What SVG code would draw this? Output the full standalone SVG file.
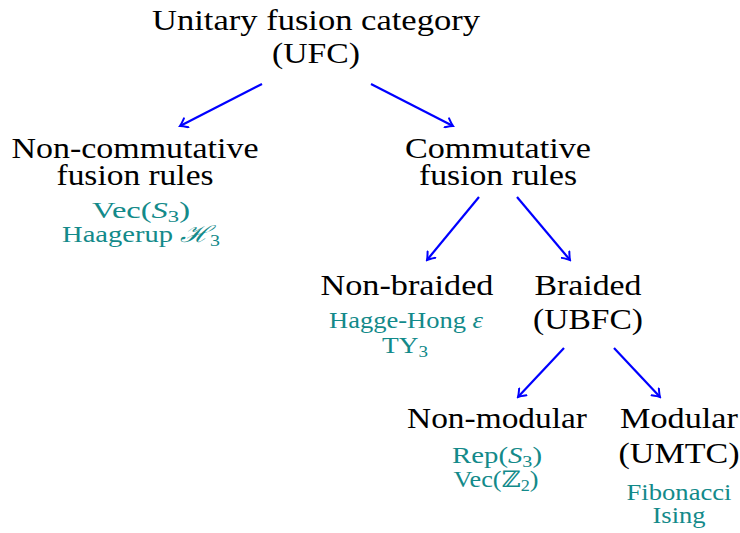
<svg xmlns="http://www.w3.org/2000/svg" width="740" height="533" viewBox="0 0 740 533">
<style>
.t{font-family:"Liberation Serif","DejaVu Serif",serif;font-size:30px;fill:#000;text-anchor:middle}
.e{font-family:"Liberation Serif","DejaVu Serif",serif;font-size:23px;fill:#138a8a;text-anchor:middle}
.i{font-style:italic}
.sub{font-size:16px}
.c{stroke:#0000ff;stroke-width:2.2;fill:none;marker-end:url(#ah)}
</style>
<defs>
<marker id="ah" viewBox="-8 -6 10 12" refX="0" refY="0" markerWidth="10" markerHeight="12" markerUnits="userSpaceOnUse" orient="auto">
<path d="M-7,-5 Q-2,-1 0,0 Q-2,1 -7,5" fill="none" stroke="#0000ff" stroke-width="2" stroke-linecap="round"/>
</marker>
</defs>
<g id="connectors">
<line class="c" x1="262" y1="84" x2="180" y2="126"/>
<line class="c" x1="371" y1="84" x2="453" y2="126"/>
<line class="c" x1="479" y1="197" x2="427" y2="260"/>
<line class="c" x1="517" y1="197" x2="570" y2="260"/>
<line class="c" x1="564" y1="348" x2="518" y2="397"/>
<line class="c" x1="614" y1="348" x2="660" y2="397"/>
</g>
<g id="ufc">
<text class="t" x="316" y="30" textLength="328" lengthAdjust="spacingAndGlyphs">Unitary fusion category</text>
<text class="t" x="316" y="63" textLength="88" lengthAdjust="spacingAndGlyphs">(UFC)</text>
</g>
<g id="noncomm">
<text class="t" x="135" y="158" textLength="247" lengthAdjust="spacingAndGlyphs">Non-commutative</text>
<text class="t" x="135" y="185" textLength="157" lengthAdjust="spacingAndGlyphs">fusion rules</text>
<text class="e" x="141" y="218" textLength="98" lengthAdjust="spacingAndGlyphs">Vec(<tspan class="i">S</tspan><tspan class="sub" dy="4">3</tspan><tspan dy="-4">)</tspan></text>
<text class="e" x="141" y="242" textLength="158" lengthAdjust="spacingAndGlyphs">Haagerup <tspan class="i">ℋ</tspan><tspan class="sub" dy="4">3</tspan></text>
</g>
<g id="comm">
<text class="t" x="498" y="158" textLength="186" lengthAdjust="spacingAndGlyphs">Commutative</text>
<text class="t" x="498" y="185" textLength="158" lengthAdjust="spacingAndGlyphs">fusion rules</text>
</g>
<g id="nonbraided">
<text class="t" x="407" y="295" textLength="173" lengthAdjust="spacingAndGlyphs">Non-braided</text>
<text class="e" x="406" y="328" textLength="154" lengthAdjust="spacingAndGlyphs">Hagge-Hong <tspan class="i">ε</tspan></text>
<text class="e" x="405" y="353" textLength="46" lengthAdjust="spacingAndGlyphs">TY<tspan class="sub" dy="4">3</tspan></text>
</g>
<g id="braided">
<text class="t" x="588" y="295" textLength="107" lengthAdjust="spacingAndGlyphs">Braided</text>
<text class="t" x="588" y="329" textLength="110" lengthAdjust="spacingAndGlyphs">(UBFC)</text>
</g>
<g id="nonmodular">
<text class="t" x="497" y="428" textLength="180" lengthAdjust="spacingAndGlyphs">Non-modular</text>
<text class="e" x="497" y="463" textLength="90" lengthAdjust="spacingAndGlyphs">Rep(<tspan class="i">S</tspan><tspan class="sub" dy="4">3</tspan><tspan dy="-4">)</tspan></text>
<text class="e" x="496" y="487" textLength="85" lengthAdjust="spacingAndGlyphs">Vec(ℤ<tspan class="sub" dy="4">2</tspan><tspan dy="-4">)</tspan></text>
</g>
<g id="modular">
<text class="t" x="679" y="428" textLength="118" lengthAdjust="spacingAndGlyphs">Modular</text>
<text class="t" x="679" y="463" textLength="121" lengthAdjust="spacingAndGlyphs">(UMTC)</text>
<text class="e" x="679" y="500" textLength="105" lengthAdjust="spacingAndGlyphs">Fibonacci</text>
<text class="e" x="679" y="523" textLength="53" lengthAdjust="spacingAndGlyphs">Ising</text>
</g>
</svg>
